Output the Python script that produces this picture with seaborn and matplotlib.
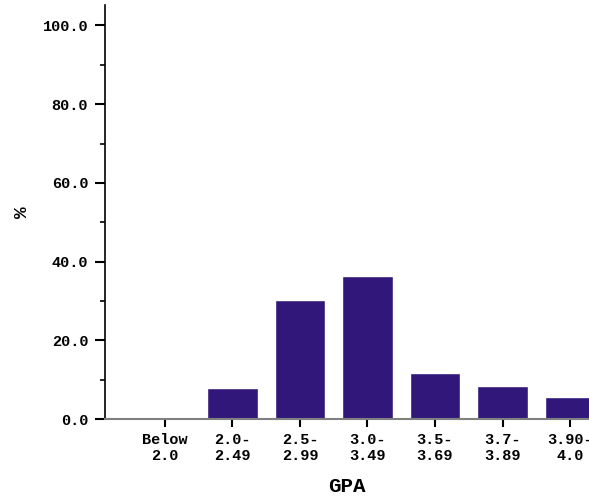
import pandas as pd
import matplotlib.pyplot as plt
import seaborn as sns
from matplotlib.ticker import MultipleLocator, FormatStrFormatter

# values
gpa_bins = ['Below\n2.0', '2.0-\n2.49', '2.5-\n2.99', '3.0-\n3.49',
            '3.5-\n3.69', '3.7-\n3.89', '3.90-\n4.0']
percent = [0.0, 7.8, 30.2, 36.3, 11.8, 8.3, 5.6]

df = pd.DataFrame({'GPA': gpa_bins, 'pct': percent})

sns.set_style("white")
plt.rcParams['font.family'] = ['Liberation Mono', 'DejaVu Sans']
plt.rcParams['font.weight'] = 'bold'
plt.rcParams['text.color'] = 'black'

fig = plt.figure(figsize=(5.89, 4.96), dpi=100)
ax = fig.add_axes([0.178, 0.155, 0.822, 0.835])

sns.barplot(data=df, x='GPA', y='pct', color='#32177a', width=0.75,
            saturation=1, ax=ax)

ax.set_xlim(-0.889, 6.28)
ax.set_ylim(0, 105.2)

ax.yaxis.set_major_locator(MultipleLocator(20))
ax.yaxis.set_minor_locator(MultipleLocator(10))
ax.yaxis.set_major_formatter(FormatStrFormatter('%.1f'))

ax.tick_params(axis='y', which='major', length=7, width=1.5, labelsize=11,
               pad=5, left=True, colors='black')
ax.tick_params(axis='y', which='minor', length=3.5, width=1.2, left=True,
               colors='black')
ax.tick_params(axis='x', length=6, width=1.5, labelsize=11, pad=4,
               bottom=True, colors='black')
for lbl in ax.get_xticklabels() + ax.get_yticklabels():
    lbl.set_fontweight('bold')
    lbl.set_linespacing(1.2)

sns.despine(ax=ax)
ax.spines['left'].set_color('black')
ax.spines['left'].set_linewidth(1.2)
ax.spines['bottom'].set_color('#808080')
ax.spines['bottom'].set_linewidth(1.5)

ax.set_xlabel('GPA', fontsize=15, fontweight='bold', labelpad=10,
              color='black')
ax.set_ylabel('%', fontsize=14, fontweight='bold', color='black')
ax.yaxis.set_label_coords(-0.152, 0.5)

fig.savefig('out.png', dpi=100)
